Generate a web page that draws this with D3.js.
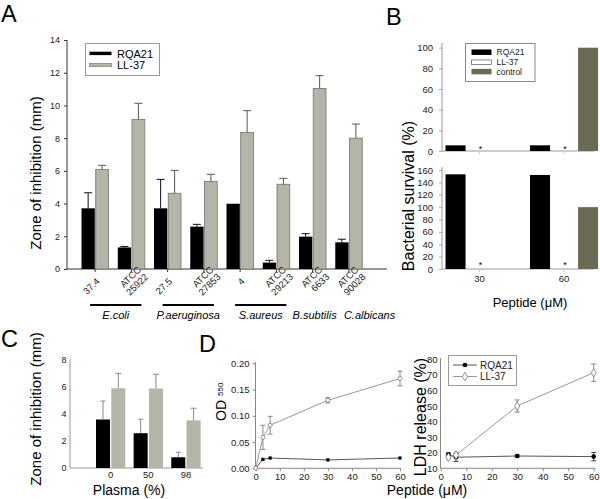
<!DOCTYPE html>
<html><head><meta charset="utf-8">
<script src="https://cdn.jsdelivr.net/npm/d3@7"></script>
<style>body{margin:0;background:#fff}svg{display:block;font-family:"Liberation Sans",Arial,sans-serif}</style>
</head><body><svg id="c" width="600" height="499"></svg>
<script>
// ---------- DATA ----------
// Panel A
const aStrains = ["37.4","ATCC\n25922","27.5","ATCC\n27853","4","ATCC\n29213","ATCC\n6633","ATCC\n90028"];
const aRQA21 = [3.71,1.32,3.71,2.59,3.99,0.39,1.98,1.63];
const aRQA21Err = [0.95,0.06,1.77,0.14,0,0.14,0.18,0.19];
const aLL37 = [6.09,9.15,4.63,5.36,8.35,5.18,11.04,8.0];
const aLL37Err = [0.25,0.98,1.40,0.43,1.33,0.36,0.78,0.86];
const aYTicks = [0,2,4,6,8,10,12,14];
const aSpecies = ["E.coli","P.aeruginosa","S.aureus","B.subtilis","C.albicans"];
const aSpeciesFirst = [0,2,4,6,7];
const aSpeciesLast = [1,3,5,6,7];
// Panel B
const bGroups = ["30","60"];
const bSeries = ["RQA21","LL-37","control"];
const bUpperRQA21 = [5.5,5.5];
const bUpperLL37 = [0,0];
const bUpperControl = [null,100];
const bLowerRQA21 = [153,152];
const bLowerLL37 = [0,0];
const bLowerControl = [null,100];
const bUpperTicks = [0,20,40,60,80,100];
const bLowerTicks = [0,20,40,60,80,100,120,140,160];
// Panel C
const cPlasma = ["0","50","98"];
const cRQA21 = [3.57,2.56,0.79];
const cRQA21Err = [1.36,1.03,0.37];
const cLL37 = [5.87,5.85,3.51];
const cLL37Err = [1.10,1.05,0.89];
const cYTicks = [0,2,4,6,8];
// Panel D left (OD550)
const dConc = [0,3,6,30,60];
const dOdRQA21 = [0,0.017,0.0196,0.016,0.0196];
const dOdLL37 = [0,0.059,0.082,0.1295,0.171];
const dOdLL37Err = [0,0.023,0.017,0.005,0.014];
const dOdYTicks = [0,0.05,0.10,0.15,0.20];
const dXTicks = [0,10,20,30,40,50,60];
// Panel D right (LDH)
const dLdhConc = [3,6,30,60];
const dLdhRQA21 = [19.0,17.1,17.9,17.5];
const dLdhRQA21Err = [0.8,2.7,0.7,2.7];
const dLdhLL37 = [17.1,18.5,50.0,71.4];
const dLdhLL37Err = [1.0,0.8,3.9,5.6];
const dLdhYTicks = [10,20,30,40,50,60,70,80];

// ---------- STYLE ----------
const svg = d3.select("#c");
const GRAY = "#b4b4a8", GRAY_STROKE = "#74746c", CONTROL = "#6b6a55";
const TXT = "#222";

function letter(t, x, y){
  svg.append("text").attr("x",x).attr("y",y).attr("font-size",23.5).attr("fill","#000").text(t);
}
function styleAxis(g, color, fs){
  g.selectAll("path.domain").remove();
  g.selectAll(".tick line").attr("stroke", color);
  g.selectAll(".tick text").attr("fill", TXT).attr("font-size", fs).attr("font-family",'"Liberation Sans",Arial,sans-serif');
}
function errBar(g, x, y0, y1, cap, color){
  g.append("line").attr("x1",x).attr("x2",x).attr("y1",y0).attr("y2",y1).attr("stroke",color).attr("stroke-width",1);
  g.append("line").attr("x1",x-cap/2).attr("x2",x+cap/2).attr("y1",y1).attr("y2",y1).attr("stroke",color).attr("stroke-width",1);
}

// ---------- PANEL A ----------
letter("A", 1, 21.5);
{
  const g = svg.append("g");
  const y = d3.scaleLinear().domain([0,14]).range([269,40]);
  const x = d3.scaleBand().domain(d3.range(aStrains.length)).range([77,367]);
  const cen = i => x(i) + x.bandwidth()/2;
  const ya = g.append("g").attr("transform","translate(67,0)")
    .call(d3.axisLeft(y).tickValues(aYTicks).tickSize(3).tickSizeOuter(0).tickPadding(4));
  styleAxis(ya, "#333", 9);
  g.append("line").attr("x1",67).attr("x2",67).attr("y1",40).attr("y2",269).attr("stroke","#333");
  g.append("line").attr("x1",67).attr("x2",387).attr("y1",269).attr("y2",269).attr("stroke","#333");
  // bars
  aStrains.forEach((s,i)=>{
    const c = cen(i);
    g.append("rect").attr("x",c-13.6).attr("width",13.3).attr("y",y(aRQA21[i])).attr("height",y(0)-y(aRQA21[i])).attr("fill","#000");
    g.append("rect").attr("x",c+0.6).attr("width",12.8).attr("y",y(aLL37[i])).attr("height",y(0)-y(aLL37[i])).attr("fill",GRAY).attr("stroke",GRAY_STROKE).attr("stroke-width",0.8);
    if (aRQA21Err[i]>0) errBar(g, c-7, y(aRQA21[i]), y(aRQA21[i]+aRQA21Err[i]), 8, "#111");
    errBar(g, c+7, y(aLL37[i]), y(aLL37[i]+aLL37Err[i]), 8, "#555");
    g.append("line").attr("x1",c).attr("x2",c).attr("y1",269).attr("y2",272).attr("stroke","#333");
    // rotated labels
    const lines = s.split("\n");
    const t = g.append("text").attr("font-size",9.5).attr("fill",TXT).attr("text-anchor","end")
      .attr("transform",`translate(${c+5},${282}) rotate(-45)`);
    if (lines.length===1){
      t.append("tspan").attr("x",0).attr("y",0).text(lines[0]);
    } else {
      t.append("tspan").attr("x",12).attr("y",-4.5).text(lines[0]);
      t.append("tspan").attr("x",12).attr("y",5.5).text(lines[1]);
    }
  });
  // species
  aSpecies.forEach((sp,k)=>{
    const c0 = cen(aSpeciesFirst[k]), c1 = cen(aSpeciesLast[k]);
    if (aSpeciesFirst[k]!==aSpeciesLast[k]){
      g.append("line").attr("x1",c0-5).attr("x2",c1+10).attr("y1",305).attr("y2",305).attr("stroke","#000").attr("stroke-width",2.2);
      g.append("text").attr("x",(c0+c1)/2+2.5).attr("y",319).attr("text-anchor","middle").attr("font-size",11).attr("font-style","italic").text(sp);
    } else if (k===3) {
      g.append("text").attr("x",c0+2).attr("y",319).attr("text-anchor","middle").attr("font-size",11).attr("font-style","italic").text(sp);
    } else {
      g.append("text").attr("x",c0-5).attr("y",319).attr("text-anchor","start").attr("font-size",11).attr("font-style","italic").text(sp);
    }
  });
  g.append("text").attr("transform","translate(41,173) rotate(-90)").attr("text-anchor","middle").attr("font-size",15).text("Zone of inhibition (mm)");
  // legend
  g.append("rect").attr("x",85.5).attr("y",43.5).attr("width",74).attr("height",32).attr("fill","#fff").attr("stroke","#999");
  g.append("rect").attr("x",89.5).attr("y",51.7).attr("width",22).attr("height",3.4).attr("fill","#000");
  g.append("rect").attr("x",89.5).attr("y",63.3).attr("width",22).attr("height",3.4).attr("fill",GRAY).attr("stroke",GRAY_STROKE).attr("stroke-width",0.6);
  g.append("text").attr("x",117).attr("y",57.5).attr("font-size",11).text("RQA21");
  g.append("text").attr("x",117).attr("y",69).attr("font-size",11).text("LL-37");
}

// ---------- PANEL B ----------
letter("B", 386, 25);
{
  const g = svg.append("g");
  const x = d3.scaleBand().domain(bGroups).range([437.3,606.3]).paddingInner(0.195).paddingOuter(0.0975);
  const xi = d3.scaleBand().domain(bSeries).range([0,x.bandwidth()]).paddingInner(1/6);
  const fill = {"RQA21":"#000","LL-37":"#fff","control":CONTROL};
  function sub(yScale, axisTop, ticks, rq, ll, ctl, starY){
    const y0 = yScale(0);
    const ya = g.append("g").attr("transform","translate(442,0)")
      .call(d3.axisLeft(yScale).tickValues(ticks).tickSize(3).tickSizeOuter(0).tickPadding(6));
    styleAxis(ya, "#aaa", 9.5);
    g.append("line").attr("x1",442).attr("x2",442).attr("y1",axisTop).attr("y2",y0).attr("stroke","#999");
    g.append("line").attr("x1",442).attr("x2",594).attr("y1",y0).attr("y2",y0).attr("stroke","#999");
    bGroups.forEach((grp,i)=>{
      const vals = {"RQA21":rq[i],"LL-37":ll[i],"control":ctl[i]};
      bSeries.forEach(s=>{
        const v = vals[s];
        if (v===null || v===undefined) return;
        const bx = x(grp)+xi(s);
        if (v>0) g.append("rect").attr("x",bx).attr("width",xi.bandwidth()).attr("y",yScale(v)).attr("height",y0-yScale(v)).attr("fill",fill[s]);
        if (s==="LL-37" && v===0) g.append("text").attr("x",bx+xi.bandwidth()/2+1).attr("y",y0+starY).attr("text-anchor","middle").attr("font-size",9).text("*");
      });
      g.append("line").attr("x1",x(grp)+xi("LL-37")+xi.bandwidth()/2).attr("x2",x(grp)+xi("LL-37")+xi.bandwidth()/2).attr("y1",y0).attr("y2",y0+3).attr("stroke","#ccc");
    });
  }
  const yU = d3.scaleLinear().domain([0,100]).range([151,47.7]);
  const yL = d3.scaleLinear().domain([0,160]).range([269,170]);
  sub(yU, 43, bUpperTicks, bUpperRQA21, bUpperLL37, bUpperControl, 1);
  sub(yL, 167, bLowerTicks, bLowerRQA21, bLowerLL37, bLowerControl, -1);
  bGroups.forEach(grp=>{
    g.append("text").attr("x",x(grp)+xi("LL-37")+xi.bandwidth()/2).attr("y",282).attr("text-anchor","middle").attr("font-size",9.5).attr("fill",TXT).text(grp);
  });
  g.append("text").attr("x",530).attr("y",307).attr("text-anchor","middle").attr("font-size",13).text("Peptide (μM)");
  g.append("text").attr("transform","translate(414,196) rotate(-90)").attr("text-anchor","middle").attr("font-size",16).text("Bacterial survival (%)");
  // legend
  g.append("rect").attr("x",465.5).attr("y",43.5).attr("width",69.5).attr("height",38).attr("fill","#fff").attr("stroke","#888");
  const lc = [52.2,62.2,71.6];
  bSeries.forEach((s,k)=>{
    const h = k===1 ? 4.5 : 5.5;
    g.append("rect").attr("x",471.5).attr("y",lc[k]-h/2).attr("width",20).attr("height",h)
      .attr("fill",fill[s]).attr("stroke",k===1?"#555":"none").attr("stroke-width",0.7);
    g.append("text").attr("x",496.5).attr("y",lc[k]+3).attr("font-size",8.5).attr("fill",TXT).text(s);
  });
}

// ---------- PANEL C ----------
letter("C", 1, 347);
{
  const g = svg.append("g");
  const y = d3.scaleLinear().domain([0,8]).range([468,359.3]);
  const x = d3.scaleBand().domain(cPlasma).range([91.9,204.8]);
  const cen = k => x(k)+x.bandwidth()/2;
  const ya = g.append("g").attr("transform","translate(70,0)")
    .call(d3.axisLeft(y).tickValues(cYTicks).tickSize(0).tickSizeOuter(0).tickPadding(3.5));
  styleAxis(ya, "#999", 9);
  g.append("line").attr("x1",70).attr("x2",70).attr("y1",359.3).attr("y2",468).attr("stroke","#999");
  g.append("line").attr("x1",70).attr("x2",203).attr("y1",468).attr("y2",468).attr("stroke","#999");
  cPlasma.forEach((p,i)=>{
    const c = cen(p);
    g.append("rect").attr("x",c-14.7).attr("width",14).attr("y",y(cRQA21[i])).attr("height",y(0)-y(cRQA21[i])).attr("fill","#000");
    g.append("rect").attr("x",c+0.6).attr("width",14).attr("y",y(cLL37[i])).attr("height",y(0)-y(cLL37[i])).attr("fill",GRAY);
    errBar(g, c-7.7, y(cRQA21[i]), y(cRQA21[i]+cRQA21Err[i]), 5, "#888");
    errBar(g, c+7.6, y(cLL37[i]), y(cLL37[i]+cLL37Err[i]), 6, "#888");
    g.append("text").attr("x",c).attr("y",478.3).attr("text-anchor","middle").attr("font-size",9.5).attr("fill",TXT).text(p);
  });
  g.append("text").attr("x",129).attr("y",495).attr("text-anchor","middle").attr("font-size",14).text("Plasma (%)");
  g.append("text").attr("transform","translate(41,409) rotate(-90)").attr("text-anchor","middle").attr("font-size",15).text("Zone of inhibition (mm)");
}

// ---------- PANEL D ----------
letter("D", 199, 352);
{
  const g = svg.append("g");
  // left
  const x = d3.scaleLinear().domain([0,60]).range([255.7,400]);
  const y = d3.scaleLinear().domain([0,0.2]).range([468.3,363.3]);
  const ya = g.append("g").attr("transform","translate(255.5,0)")
    .call(d3.axisLeft(y).tickValues(dOdYTicks).tickFormat(d3.format(".2f")).tickSize(3).tickSizeOuter(0).tickPadding(3));
  styleAxis(ya, "#888", 9.5);
  const xa = g.append("g").attr("transform","translate(0,468.3)")
    .call(d3.axisBottom(x).tickValues(dXTicks).tickSize(3).tickSizeOuter(0).tickPadding(1.5));
  styleAxis(xa, "#888", 9.5);
  g.append("line").attr("x1",255.5).attr("x2",255.5).attr("y1",362).attr("y2",468.3).attr("stroke","#888");
  g.append("line").attr("x1",255.5).attr("x2",401).attr("y1",468.3).attr("y2",468.3).attr("stroke","#888");
  const line = d3.line().x(d=>x(d[0])).y(d=>y(d[1]));
  g.append("path").attr("d",line(dConc.map((c,i)=>[c,dOdRQA21[i]]))).attr("fill","none").attr("stroke","#555");
  g.append("path").attr("d",line(dConc.map((c,i)=>[c,dOdLL37[i]]))).attr("fill","none").attr("stroke","#999");
  dConc.forEach((c,i)=>{
    if (dOdLL37Err[i]>0){
      errBar(g, x(c), y(dOdLL37[i]-dOdLL37Err[i]), y(dOdLL37[i]+dOdLL37Err[i]), 5, "#888");
      g.append("line").attr("x1",x(c)-2.5).attr("x2",x(c)+2.5).attr("y1",y(dOdLL37[i]-dOdLL37Err[i])).attr("y2",y(dOdLL37[i]-dOdLL37Err[i])).attr("stroke","#888");
    }
  });
  dConc.forEach((c,i)=>{
    g.append("rect").attr("x",x(c)-1.6).attr("y",y(dOdRQA21[i])-1.6).attr("width",3.2).attr("height",3.2).attr("fill","#000");
    g.append("circle").attr("cx",x(c)).attr("cy",y(dOdLL37[i])).attr("r",2).attr("fill","#fff").attr("stroke","#777").attr("stroke-width",0.8);
  });
  const od = g.append("text").attr("transform","translate(226,421) rotate(-90)").attr("font-size",14);
  od.append("tspan").text("OD");
  od.append("tspan").attr("font-size",8).attr("dx",4).attr("dy",-3).text("550");

  // right
  const x2 = d3.scaleLinear().domain([0,60]).range([440.7,593.7]);
  const y2 = d3.scaleLinear().domain([10,80]).range([468.3,359.3]);
  const ya2 = g.append("g").attr("transform","translate(440.5,0)")
    .call(d3.axisLeft(y2).tickValues(dLdhYTicks).tickSize(0).tickSizeOuter(0).tickPadding(3));
  styleAxis(ya2, "#888", 9.5);
  const xa2 = g.append("g").attr("transform","translate(0,468.3)")
    .call(d3.axisBottom(x2).tickValues(dXTicks).tickSize(3).tickSizeOuter(0).tickPadding(1.5));
  styleAxis(xa2, "#888", 9.5);
  g.append("line").attr("x1",440.5).attr("x2",440.5).attr("y1",358).attr("y2",468.3).attr("stroke","#888");
  g.append("line").attr("x1",440.5).attr("x2",595).attr("y1",468.3).attr("y2",468.3).attr("stroke","#888");
  const line2 = d3.line().x(d=>x2(d[0])).y(d=>y2(d[1]));
  g.append("path").attr("d",line2(dLdhConc.map((c,i)=>[c,dLdhRQA21[i]]))).attr("fill","none").attr("stroke","#555");
  g.append("path").attr("d",line2(dLdhConc.map((c,i)=>[c,dLdhLL37[i]]))).attr("fill","none").attr("stroke","#999");
  dLdhConc.forEach((c,i)=>{
    [[dLdhRQA21,dLdhRQA21Err,"#444"],[dLdhLL37,dLdhLL37Err,"#888"]].forEach(([v,e,col])=>{
      const lo = y2(v[i]-e[i]), hi = y2(v[i]+e[i]);
      g.append("line").attr("x1",x2(c)).attr("x2",x2(c)).attr("y1",lo).attr("y2",hi).attr("stroke",col);
      g.append("line").attr("x1",x2(c)-2.5).attr("x2",x2(c)+2.5).attr("y1",lo).attr("y2",lo).attr("stroke",col);
      g.append("line").attr("x1",x2(c)-2.5).attr("x2",x2(c)+2.5).attr("y1",hi).attr("y2",hi).attr("stroke",col);
    });
  });
  const diamond = d3.symbol().type(d3.symbolDiamond).size(22);
  dLdhConc.forEach((c,i)=>{
    g.append("circle").attr("cx",x2(c)).attr("cy",y2(dLdhRQA21[i])).attr("r",2.3).attr("fill","#000");
    g.append("path").attr("d",diamond()).attr("transform",`translate(${x2(c)},${y2(dLdhLL37[i])})`).attr("fill","#fff").attr("stroke","#777").attr("stroke-width",0.8);
  });
  g.append("text").attr("transform","translate(426,417) rotate(-90)").attr("text-anchor","middle").attr("font-size",16).text("LDH release (%)");
  g.append("text").attr("x",427).attr("y",495).attr("text-anchor","middle").attr("font-size",14).text("Peptide (μM)");
  // legend
  g.append("rect").attr("x",448.5).attr("y",355.5).attr("width",68).attr("height",30).attr("fill","#fff").attr("stroke","#999");
  g.append("line").attr("x1",453).attr("x2",477).attr("y1",365).attr("y2",365).attr("stroke","#555");
  g.append("circle").attr("cx",465).attr("cy",365).attr("r",2.3).attr("fill","#000");
  g.append("line").attr("x1",453).attr("x2",477).attr("y1",376.5).attr("y2",376.5).attr("stroke","#999");
  g.append("path").attr("d",diamond()).attr("transform","translate(465,376.5)").attr("fill","#fff").attr("stroke","#777").attr("stroke-width",0.8);
  g.append("text").attr("x",480).attr("y",368.7).attr("font-size",10).attr("fill",TXT).text("RQA21");
  g.append("text").attr("x",480).attr("y",380.2).attr("font-size",10).attr("fill",TXT).text("LL-37");
}
</script></body></html>
